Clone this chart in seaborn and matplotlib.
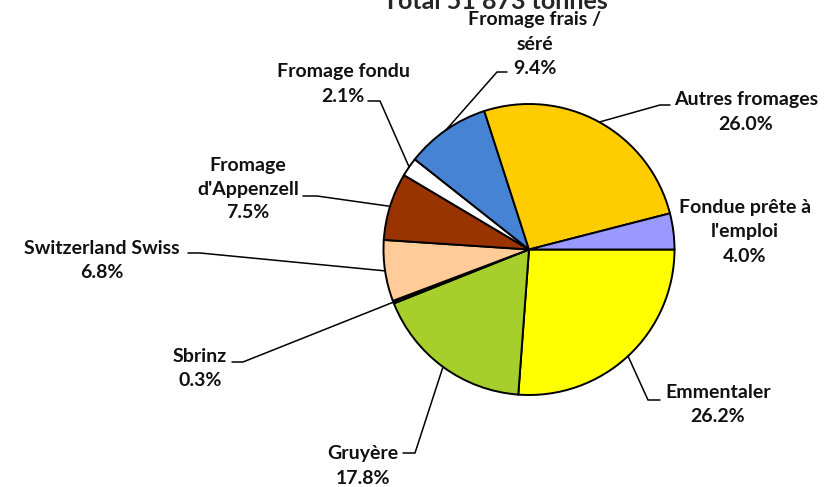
import numpy as np
import matplotlib.pyplot as plt
import seaborn as sns

# Data (clockwise from 3 o'clock)
categories = ["Emmentaler", "Gruyère", "Sbrinz", "Switzerland Swiss",
              "Fromage\nd'Appenzell", "Fromage fondu", "Fromage frais /\nséré",
              "Autres fromages", "Fondue prête à\nl'emploi"]
shares = [26.2, 17.8, 0.3, 6.8, 7.5, 2.1, 9.4, 26.0, 4.0]
colors = ["#FFFF00", "#A6CF2B", "#111111", "#FFCC99", "#993300",
          "#FFFFFF", "#4683D4", "#FFCC00", "#9999FF"]
title = "Total 51 873 tonnes"

# Layout in pixel units (y grows downward): label centres and leader elbows
label_xy = [(718, 405), (363, 466), (200, 368), (102, 261), (248, 189),
            (343, 84), (535, 44), (746, 112), (745, 232)]
leaders = [((648, 400), (660, 400)), ((415, 453), (403, 453)),
           ((243, 362), (232, 362)), ((200, 253), (188, 253)),
           ((317, 196), (303, 196)), ((380, 101), (368, 101)),
           ((497, 72), (507, 72)), ((660, 105), (670, 105)), None]

center = (529, 249.5)
radius = 145.5

sns.set_style("white")
plt.rcParams['font.family'] = ['Lato', 'DejaVu Sans']

fig = plt.figure(figsize=(8.3, 4.87), dpi=100)
ax = fig.add_axes([0, 0, 1, 1])

wedges, _ = ax.pie(shares, colors=colors, startangle=0, counterclock=True,
                   center=center, radius=radius,
                   wedgeprops=dict(edgecolor="black", linewidth=1.4))
ax.set_xlim(0, 830)
ax.set_ylim(487, 0)
ax.set_aspect("auto")
ax.axis("off")

ax.text(495, 9, title, ha="center", va="baseline", fontsize=18, fontweight="bold")

for w, cat, val, (tx, ty), ld in zip(wedges, categories, shares, label_xy, leaders):
    if ld is not None:
        mid = np.deg2rad((w.theta1 + w.theta2) / 2)
        ex = center[0] + radius * np.cos(mid)
        ey = center[1] + radius * np.sin(mid)
        (bx, by), (hx, hy) = ld
        ax.plot([ex, bx, hx], [ey, by, hy], color="black", lw=1.1)
    ax.text(tx, ty, f"{cat}\n{val:.1f}%", ha="center", va="center",
            fontsize=14, fontweight="bold", linespacing=1.5, color="#111111")

fig.savefig("out.png", dpi=100)
